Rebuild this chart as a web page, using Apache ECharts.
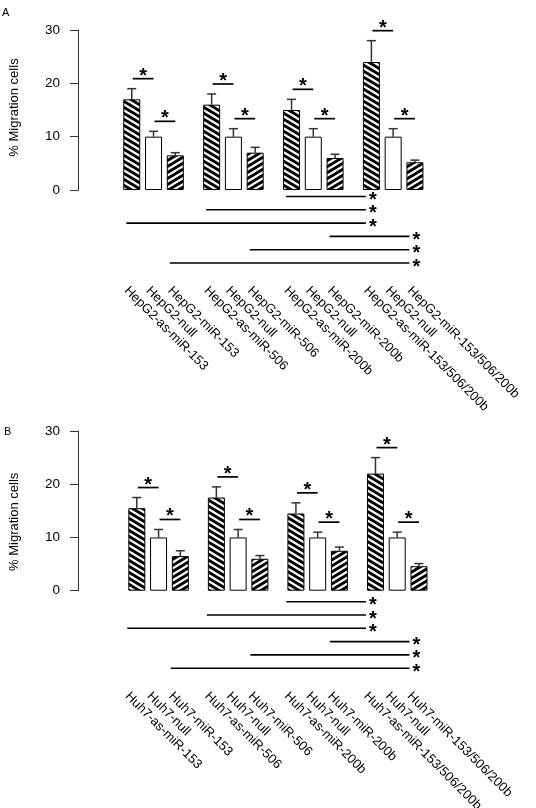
<!DOCTYPE html>
<html><head><meta charset="utf-8">
<script src="https://cdn.jsdelivr.net/npm/echarts@6/dist/echarts.min.js"></script>
<style>html,body{margin:0;padding:0;background:#fff}#c{width:536px;height:808px}</style>
</head><body><div id="c"></div>
<script>
// ---------- data ----------
const groups = ['miR-153', 'miR-506', 'miR-200b', 'miR-153/506/200b'];
const labelsA = [
  'HepG2-as-miR-153', 'HepG2-null', 'HepG2-miR-153',
  'HepG2-as-miR-506', 'HepG2-null', 'HepG2-miR-506',
  'HepG2-as-miR-200b', 'HepG2-null', 'HepG2-miR-200b',
  'HepG2-as-miR-153/506/200b', 'HepG2-null', 'HepG2-miR-153/506/200b'
];
const labelsB = [
  'Huh7-as-miR-153', 'Huh7-null', 'Huh7-miR-153',
  'Huh7-as-miR-506', 'Huh7-null', 'Huh7-miR-506',
  'Huh7-as-miR-200b', 'Huh7-null', 'Huh7-miR-200b',
  'Huh7-as-miR-153/506/200b', 'Huh7-null', 'Huh7-miR-153/506/200b'
];
const asMirA = [17, 16, 15, 24];
const asMirErrA = [2, 2, 2, 4];
const nullA = [10, 10, 10, 10];
const nullErrA = [1, 1.5, 1.5, 1.5];
const mirA = [6.5, 7, 6, 5.2];
const mirErrA = [0.5, 1, 0.7, 0.4];

const asMirB = [15.5, 17.5, 14.5, 22];
const asMirErrB = [2, 2, 2, 3];
const nullB = [10, 10, 10, 10];
const nullErrB = [1.5, 1.5, 1, 1];
const mirB = [6.5, 6, 7.5, 4.6];
const mirErrB = [1, 0.6, 0.7, 0.5];

// comparisons below axis: [fromGroup, toGroup, barIndexInGroup]
const sigBelow = [[2, 3, 0], [1, 3, 0], [0, 3, 0], [2, 3, 2], [1, 3, 2], [0, 3, 2]];
// pairwise comparisons within each group: [leftBar, rightBar]
const sigPairs = [[0, 1], [1, 2]];
const yTicks = [0, 10, 20, 30];
const yName = '% Migration cells';

// ---------- style / layout ----------
const FONT = 'Liberation Sans, Arial, Helvetica, sans-serif';
const BW = 17, GAP = 0.28, PITCH = BW * (1 + GAP);
function barOff(b) { return (b - 1) * PITCH; }

function stripe(dir) {
  const c = document.createElement('canvas');
  c.width = 10; c.height = 6;
  const g = c.getContext('2d');
  g.fillStyle = '#000'; g.fillRect(0, 0, 10, 6);
  g.strokeStyle = '#fff'; g.lineWidth = 2.3;
  for (let k = -3; k <= 3; k++) {
    g.beginPath();
    if (dir > 0) { g.moveTo(-10, k * 6 - 6); g.lineTo(20, k * 6 + 12); }
    else { g.moveTo(-10, k * 6 + 12); g.lineTo(20, k * 6 - 6); }
    g.stroke();
  }
  return { image: c, repeat: 'repeat' };
}
const patBack = stripe(1), patFwd = stripe(-1);

const panels = [
  { vals: [asMirA, nullA, mirA], errs: [asMirErrA, nullErrA, mirErrA], labels: labelsA,
    left: 106.3, top: 30, width: 326.8, height: 160, axOff: 35.6, namePad: [0, 0, 0, 5],
    labDx: -1, labDy: 94, sigDy: 6.5, sigDx: -5.5 },
  { vals: [asMirB, nullB, mirB], errs: [asMirErrB, nullErrB, mirErrB], labels: labelsB,
    left: 111.5, top: 431, width: 325.5, height: 159.7, axOff: 40.8, namePad: [0, 22, 0, 0],
    labDx: -5, labDy: 99, sigDy: 11, sigDx: -9.5 }
];

const grid = [], xAxis = [], yAxis = [], series = [];
panels.forEach((p, pi) => {
  grid.push({ left: p.left, top: p.top, width: p.width, height: p.height });
  xAxis.push({ type: 'category', gridIndex: pi, data: groups, show: false });
  yAxis.push({
    type: 'value', gridIndex: pi, min: yTicks[0], max: yTicks[yTicks.length - 1],
    interval: yTicks[1] - yTicks[0], offset: p.axOff,
    name: yName, nameLocation: 'middle', nameGap: 57,
    nameTextStyle: { fontSize: 13, fontFamily: FONT, color: '#000', padding: p.namePad },
    axisLine: { show: true, lineStyle: { color: '#333', width: 1 } },
    axisTick: { show: true, length: 8, lineStyle: { color: '#333' } },
    axisLabel: { fontSize: 13.5, fontFamily: FONT, color: '#000', margin: 18 },
    splitLine: { show: false }
  });
  const colors = [patBack, '#fff', patFwd];
  p.vals.forEach((v, s) => {
    series.push({
      type: 'bar', xAxisIndex: pi, yAxisIndex: pi, data: v,
      barWidth: BW, barGap: (GAP * 100) + '%', silent: true,
      itemStyle: { color: colors[s], borderColor: '#000', borderWidth: 1 }
    });
  });
  // error bars
  const errData = [];
  p.vals.forEach((v, s) => v.forEach((val, g) => errData.push([g, val, p.errs[s][g], s])));
  series.push({
    type: 'custom', xAxisIndex: pi, yAxisIndex: pi, silent: true, data: errData,
    encode: { x: 0, y: 1 },
    renderItem: (params, api) => {
      const g = api.value(0), v = api.value(1), e = api.value(2), s = api.value(3);
      const p0 = api.coord([g, v]), p1 = api.coord([g, v + e]);
      const x = p0[0] + barOff(s);
      const st = { stroke: '#333', lineWidth: 1.5 };
      return { type: 'group', children: [
        { type: 'line', shape: { x1: x, y1: p0[1], x2: x, y2: p1[1] }, style: st },
        { type: 'line', shape: { x1: x - 4.5, y1: p1[1], x2: x + 4.5, y2: p1[1] }, style: st }
      ] };
    }
  });
  // pairwise brackets above bars
  const brData = [];
  for (let g = 0; g < groups.length; g++) {
    sigPairs.forEach(([a, b]) => {
      const top = Math.max(p.vals[a][g] + p.errs[a][g], p.vals[b][g] + p.errs[b][g]);
      brData.push([g, top, a, b]);
    });
  }
  series.push({
    type: 'custom', xAxisIndex: pi, yAxisIndex: pi, silent: true, data: brData,
    encode: { x: 0, y: 1 },
    renderItem: (params, api) => {
      const g = api.value(0), top = api.value(1), a = api.value(2), b = api.value(3);
      const pt = api.coord([g, top]);
      const y = pt[1] - 10;
      const x1 = pt[0] + barOff(a) + 1, x2 = pt[0] + barOff(b) + 0;
      return { type: 'group', children: [
        { type: 'line', shape: { x1: x1, y1: y, x2: x2, y2: y }, style: { stroke: '#000', lineWidth: 1.7 } },
        { type: 'text', x: (x1 + x2) / 2, y: y - 2.5, style: { text: '*', fontSize: 20, fontWeight: 'bold', fontFamily: FONT, fill: '#000', align: 'center', verticalAlign: 'middle' } }
      ] };
    }
  });
  // comparison lines below axis
  const sgData = sigBelow.map((d, row) => [d[0], 0, d[1], d[2], row]);
  series.push({
    type: 'custom', xAxisIndex: pi, yAxisIndex: pi, silent: true, data: sgData,
    encode: { x: 0, y: 1 },
    renderItem: (params, api) => {
      const gf = api.value(0), gt = api.value(2), b = api.value(3), row = api.value(4);
      const pf = api.coord([gf, 0]), pt = api.coord([gt, 0]);
      const y = pf[1] + p.sigDy + row * 13.3;
      const x1 = pf[0] + barOff(b) + p.sigDx, x2 = pt[0] + barOff(b) + p.sigDx;
      return { type: 'group', children: [
        { type: 'line', shape: { x1: x1, y1: y, x2: x2, y2: y }, style: { stroke: '#000', lineWidth: 1.6 } },
        { type: 'text', x: x2 + 7, y: y + 4, style: { text: '*', fontSize: 20, fontWeight: 'bold', fontFamily: FONT, fill: '#000', align: 'center', verticalAlign: 'middle' } }
      ] };
    }
  });
  // rotated category labels
  const lbData = [];
  for (let g = 0; g < groups.length; g++) for (let b = 0; b < 3; b++) lbData.push([g, 0, b]);
  series.push({
    type: 'custom', xAxisIndex: pi, yAxisIndex: pi, silent: true, data: lbData,
    encode: { x: 0, y: 1 },
    renderItem: (params, api) => {
      const g = api.value(0), b = api.value(2);
      const pc = api.coord([g, 0]);
      return { type: 'text', x: pc[0] + barOff(b) + p.labDx, y: pc[1] + p.labDy, rotation: -Math.PI / 4,
        style: { text: p.labels[g * 3 + b], fontSize: 13, fontFamily: FONT, fill: '#000', align: 'left', verticalAlign: 'top' } };
    }
  });
});

const chart = echarts.init(document.getElementById('c'), null, { renderer: 'canvas' });
chart.setOption({
  animation: false,
  backgroundColor: '#fff',
  grid, xAxis, yAxis, series,
  graphic: [
    { type: 'text', left: 2, top: 7, style: { text: 'A', fontSize: 11, fontFamily: FONT, fill: '#000' } },
    { type: 'text', left: 4, top: 426, style: { text: 'B', fontSize: 11, fontFamily: FONT, fill: '#000' } }
  ]
});
</script></body></html>
